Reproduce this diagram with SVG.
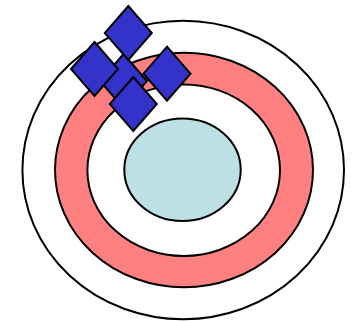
<svg xmlns="http://www.w3.org/2000/svg" width="353" height="321" viewBox="0 0 353 321">
<style>
.e{stroke:#000;stroke-width:2}
.d{fill:#3333CC;stroke:#000;stroke-width:2;stroke-linejoin:miter}
</style>
<rect width="353" height="321" fill="#fff"/>
<g id="rings">
<ellipse id="outer" class="e" cx="183.2" cy="170" rx="160.8" ry="149.2" fill="#fff"/>
<ellipse id="red" class="e" cx="184" cy="170" rx="129" ry="117.3" fill="#FF8080"/>
<ellipse id="inner" class="e" cx="183.7" cy="170.2" rx="96.3" ry="85.8" fill="#fff"/>
<ellipse id="core" class="e" cx="182.5" cy="169.7" rx="58.2" ry="51.3" fill="#BCE0E3"/>
</g>
<g id="diamonds">
<polygon id="mid" class="d" points="123.5,54 147,81 123.5,108 100,81"/>
<polygon id="top" class="d" points="128.3,6 151.8,33 128.3,60 104.8,33"/>
<polygon id="left" class="d" points="94.5,42 118,69 94.5,96 71,69"/>
<polygon id="right" class="d" points="167,46.7 190.5,73.7 167,100.7 143.5,73.7"/>
<polygon id="bottom" class="d" points="133.3,77 156.8,104 133.3,131 109.8,104"/>
</g>
</svg>
